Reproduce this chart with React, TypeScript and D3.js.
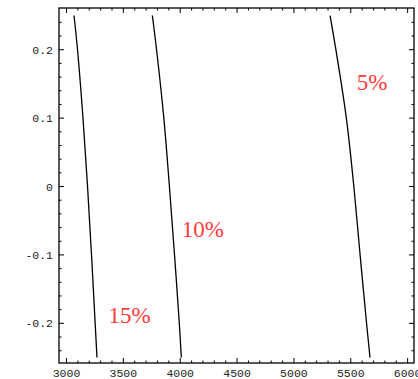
import React from "react";
import * as d3 from "d3";

const yLevels = [0.25, 0.2, 0.1, 0, -0.1, -0.2, -0.25];
const curve5 = [5318, 5369, 5461, 5527, 5582, 5639, 5669];
const curve10 = [3755, 3792, 3856, 3905, 3950, 3992, 4010];
const curve15 = [3066, 3097, 3145, 3185, 3220, 3252, 3268];
const curveNames = ["5%", "10%", "15%"];
const labelX = [5552, 4013, 3369];
const labelY = [0.141, -0.074, -0.2];
const xTicks = [3000, 3500, 4000, 4500, 5000, 5500, 6000];
const yTicks = [-0.2, -0.1, 0, 0.1, 0.2];
const yTickLabels = ["-0.2", "-0.1", "0", "0.1", "0.2"];

const W = 418, H = 379;
const L = 59, R = 414, T = 8, B = 363;

export default function App() {
  const x = d3.scaleLinear().domain([2934, 6056]).range([L, R]);
  const y = d3.scaleLinear().domain([-0.258, 0.261]).range([B, T]);
  const series = [curve5, curve10, curve15];
  const line = d3
    .line<[number, number]>()
    .x((d) => x(d[0]))
    .y((d) => y(d[1]))
    .curve(d3.curveCatmullRom);

  const xMinor = d3.range(3000, 6001, 100).filter((v) => v % 500 !== 0);
  const yMinor = d3.range(-24, 25, 2).map((v) => v / 100).filter((v) => Math.round(v * 100) % 10 !== 0);
  const maj = 5, mnr = 2.5;
  const mono = "'Liberation Mono', 'DejaVu Sans Mono', monospace";

  return (
    <svg width={W} height={H} style={{ position: "absolute", left: 0, top: 0, background: "#fff" }}>
      <rect x={0} y={0} width={W} height={H} fill="#fff" />
      {series.map((s, i) => (
        <path
          key={i}
          d={line(s.map((v, j) => [v, yLevels[j]] as [number, number])) || ""}
          fill="none"
          stroke="#000"
          strokeWidth={1.3}
        />
      ))}
      <rect x={L} y={T} width={R - L} height={B - T} fill="none" stroke="#000" strokeWidth={1.3} />
      {xTicks.map((v) => (
        <g key={"xt" + v}>
          <line x1={x(v)} x2={x(v)} y1={B} y2={B - maj} stroke="#000" strokeWidth={1} />
          <line x1={x(v)} x2={x(v)} y1={T} y2={T + maj} stroke="#000" strokeWidth={1} />
          <text x={x(v)} y={377} textAnchor="middle" fontFamily={mono} fontSize={11.5} fill="#222">
            {v}
          </text>
        </g>
      ))}
      {xMinor.map((v) => (
        <g key={"xm" + v}>
          <line x1={x(v)} x2={x(v)} y1={B} y2={B - mnr} stroke="#000" strokeWidth={1} />
          <line x1={x(v)} x2={x(v)} y1={T} y2={T + mnr} stroke="#000" strokeWidth={1} />
        </g>
      ))}
      {yTicks.map((v, i) => (
        <g key={"yt" + v}>
          <line x1={L} x2={L + maj} y1={y(v)} y2={y(v)} stroke="#000" strokeWidth={1} />
          <line x1={R} x2={R - maj} y1={y(v)} y2={y(v)} stroke="#000" strokeWidth={1} />
          <text x={53} y={y(v) + 4} textAnchor="end" fontFamily={mono} fontSize={11.5} fill="#222">
            {yTickLabels[i]}
          </text>
        </g>
      ))}
      {yMinor.map((v) => (
        <g key={"ym" + v}>
          <line x1={L} x2={L + mnr} y1={y(v)} y2={y(v)} stroke="#000" strokeWidth={1} />
          <line x1={R} x2={R - mnr} y1={y(v)} y2={y(v)} stroke="#000" strokeWidth={1} />
        </g>
      ))}
      {curveNames.map((n, i) => (
        <text
          key={n}
          x={x(labelX[i])}
          y={y(labelY[i])}
          fontFamily="'Liberation Serif', 'DejaVu Serif', serif"
          fontSize={23}
          fill="#ff3b3b"
        >
          {n}
        </text>
      ))}
    </svg>
  );
}
